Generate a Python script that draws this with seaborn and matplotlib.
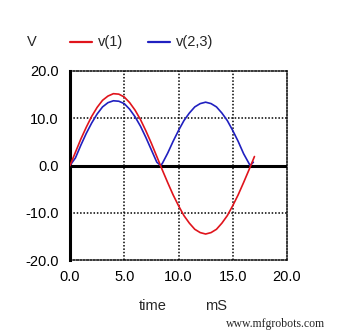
import matplotlib
matplotlib.use("Agg")
import matplotlib.pyplot as plt
import seaborn as sns
import pandas as pd

# Transient simulation results: time in ms, voltages in V
time_v1 = [0.0, 0.5, 1.0, 1.5, 2.0, 2.5, 3.0, 3.5, 4.0, 4.5, 5.0, 5.5, 6.0,
           6.5, 7.0, 7.5, 8.0, 8.5, 9.0, 9.5, 10.0, 10.5, 11.0, 11.5, 12.0,
           12.5, 13.0, 13.5, 14.0, 14.5, 15.0, 15.5, 16.0, 16.5, 17.0]
v1 = [0.0, 2.8, 5.6, 8.1, 10.4, 12.3, 13.8, 14.7, 15.2, 15.1, 14.5, 13.3, 11.7,
      9.7, 7.3, 4.7, 1.9, -0.9, -3.6, -6.2, -8.5, -10.6, -12.2, -13.5, -14.2,
      -14.5, -14.2, -13.5, -12.2, -10.6, -8.5, -6.2, -3.6, -0.9, 1.9]

time_v23 = [0.0, 0.5, 1.0, 1.5, 2.0, 2.5, 3.0, 3.5, 4.0, 4.5, 5.0, 5.5, 6.0,
            6.5, 7.0, 7.5, 8.0, 8.35, 8.5, 9.0, 9.5, 10.0, 10.5, 11.0, 11.5,
            12.0, 12.5, 13.0, 13.5, 14.0, 14.5, 15.0, 15.5, 16.0, 16.6, 16.9]
v23 = [0.0, 1.6, 4.3, 6.8, 9.0, 10.9, 12.4, 13.3, 13.7, 13.6, 13.1, 11.9, 10.3,
       8.3, 5.9, 3.3, 0.7, 0.0, 0.4, 2.6, 5.1, 7.4, 9.5, 11.1, 12.4,
       13.1, 13.4, 13.1, 12.4, 11.1, 9.5, 7.4, 5.1, 2.5, 0.0, 0.7]

x_ticks = [0.0, 5.0, 10.0, 15.0, 20.0]
y_ticks = [-20.0, -10.0, 0.0, 10.0, 20.0]
red = "#e0141c"
blue = "#2020c0"

sns.set_style("white")
plt.rcParams["font.family"] = ["Liberation Sans", "DejaVu Sans"]

fig = plt.figure(figsize=(3.47, 3.33), dpi=100)
ax = fig.add_axes([70 / 347, 1 - 260 / 333, 217 / 347, 189 / 333])

df1 = pd.DataFrame({"t": time_v1, "v": v1})
df2 = pd.DataFrame({"t": time_v23, "v": v23})
sns.lineplot(data=df1, x="t", y="v", ax=ax, color=red, lw=1.2, zorder=4)
sns.lineplot(data=df2, x="t", y="v", ax=ax, color=blue, lw=1.2, zorder=3)

ax.set_xlim(x_ticks[0], x_ticks[-1])
ax.set_ylim(y_ticks[0], y_ticks[-1])
ax.set_xticks(x_ticks)
ax.set_yticks(y_ticks)
ax.set_xticklabels([f"{t:.1f}" for t in x_ticks])
ax.set_yticklabels([f"{t:.1f}" for t in y_ticks])
ax.tick_params(axis="y", length=0, labelsize=10.5, colors="black", pad=8)
ax.tick_params(axis="x", length=0, labelsize=10.5, colors="black", pad=7)
ax.set_xlabel("")
ax.set_ylabel("")

# dotted grid and frame
dots = (0, (1, 1.2))
for x in x_ticks[1:-1]:
    ax.axvline(x, color="black", ls=dots, lw=1.1, zorder=1)
for y in [-10.0, 10.0]:
    ax.axhline(y, color="black", ls=dots, lw=1.1, zorder=1)
for side in ["top", "right", "bottom"]:
    ax.spines[side].set_linestyle(dots)
    ax.spines[side].set_linewidth(1.1)
    ax.spines[side].set_color("black")
ax.spines["left"].set_linewidth(2.2)
ax.spines["left"].set_color("black")
ax.axhline(0.0, color="black", lw=2.2, zorder=2)

# header: unit and legend
fig.text(32 / 347, 1 - 42 / 333, "V", fontsize=10.5, ha="center", va="center")
fig.add_artist(plt.Line2D([70 / 347, 92 / 347], [1 - 41.5 / 333] * 2, color=red, lw=1.6))
fig.text(98 / 347, 1 - 42 / 333, "v(1)", fontsize=10.5, ha="left", va="center")
fig.add_artist(plt.Line2D([148 / 347, 170 / 347], [1 - 41.5 / 333] * 2, color=blue, lw=1.6))
fig.text(176 / 347, 1 - 42 / 333, "v(2,3)", fontsize=10.5, ha="left", va="center")

# x axis label
fig.text(153 / 347, 1 - 306 / 333, "time", fontsize=10.5, ha="center", va="center")
fig.text(216 / 347, 1 - 306 / 333, "mS", fontsize=10.5, ha="center", va="center")

fig.text(276 / 347, 1 - 324 / 333, "www.mfgrobots.com", fontsize=8.5,
         family=["Liberation Serif", "DejaVu Serif"], ha="center", va="center")

fig.savefig("out.png", dpi=100)
